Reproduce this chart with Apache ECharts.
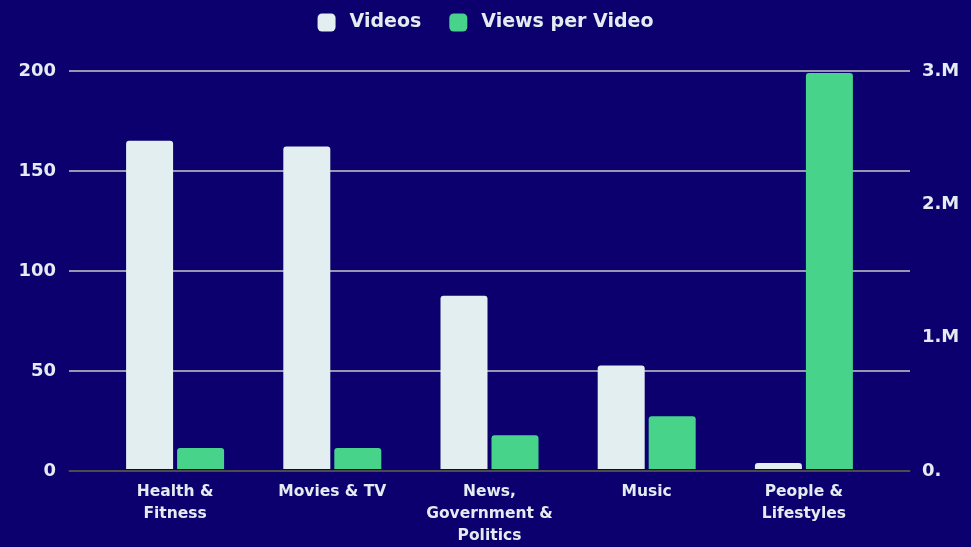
<!DOCTYPE html>
<html>
<head>
<meta charset="utf-8">
<script src="https://cdn.jsdelivr.net/npm/echarts@6/dist/echarts.min.js"></script>
<style>
html,body{margin:0;padding:0;background:#0b006e;}
#chart{width:971px;height:547px;}
</style>
</head>
<body>
<div id="chart"></div>
<script>
var categories = ['Health &\nFitness', 'Movies & TV', 'News,\nGovernment &\nPolitics', 'Music', 'People &\nLifestyles'];
var videos = [165, 162, 87, 52, 3];
var viewsPerVideo = [158000, 158000, 255000, 397000, 2985000];
var leftTicks = {min: 0, max: 200, interval: 50};
var rightTicks = {min: 0, max: 3000000, interval: 1000000};

var textColor = '#e4ecf1';
var font = 'DejaVu Sans';
var chart = echarts.init(document.getElementById('chart'));
chart.setOption({
  backgroundColor: '#0b006e',
  animation: false,
  textStyle: {fontFamily: font},
  legend: {
    top: 8, left: 'center',
    itemWidth: 18, itemHeight: 18, itemGap: 28,
    icon: 'roundRect',
    textStyle: {color: textColor, fontSize: 19, fontWeight: 'bold', fontFamily: font, padding: [0,0,0,9]},
    data: ['Videos', 'Views per Video']
  },
  grid: [
    {left: 69, right: 61, top: 71, bottom: 76},
    {left: 96.5, right: 88.5, top: 71, bottom: 76}
  ],
  xAxis: [
    {type: 'category', gridIndex: 0, data: categories, boundaryGap: true,
     axisLine: {show: true, lineStyle: {color: '#35352c', width: 1.5}},
     axisTick: {show: false}, axisLabel: {show: false}, splitLine: {show: false}},
    {type: 'category', gridIndex: 1, data: categories,
     axisLine: {show: false}, axisTick: {show: false},
     axisLabel: {color: textColor, fontSize: 15.5, fontWeight: 'bold', fontFamily: font, lineHeight: 22, margin: 12, interval: 0}}
  ],
  yAxis: [
    {type: 'value', gridIndex: 0, position: 'left', min: leftTicks.min, max: leftTicks.max, interval: leftTicks.interval,
     axisLine: {show: false}, axisTick: {show: false},
     axisLabel: {color: textColor, fontSize: 18, fontWeight: 'bold', fontFamily: font, margin: 13},
     splitLine: {show: true, lineStyle: {color: '#c8c8c8', width: 1.5}}},
    {type: 'value', gridIndex: 0, position: 'right', min: rightTicks.min, max: rightTicks.max, interval: rightTicks.interval,
     axisLine: {show: false}, axisTick: {show: false}, splitLine: {show: false},
     axisLabel: {color: textColor, fontSize: 18, fontWeight: 'bold', fontFamily: font, margin: 12,
       formatter: function (v) { return v === 0 ? '0.' : (v / 1000000) + '.M'; }}},
    {type: 'value', gridIndex: 1, min: leftTicks.min, max: leftTicks.max, show: false, splitLine: {show: false}},
    {type: 'value', gridIndex: 1, min: rightTicks.min, max: rightTicks.max, show: false, splitLine: {show: false}}
  ],
  series: [
    {name: 'Videos', type: 'bar', xAxisIndex: 1, yAxisIndex: 2, data: videos,
     barWidth: 47, barGap: '8.5%',
     itemStyle: {color: '#e3eef0', borderRadius: [3,3,0,0]}},
    {name: 'Views per Video', type: 'bar', xAxisIndex: 1, yAxisIndex: 3, data: viewsPerVideo,
     barWidth: 47, barGap: '8.5%',
     itemStyle: {color: '#48d38a', borderRadius: [3,3,0,0]}}
  ]
});
</script>
</body>
</html>
